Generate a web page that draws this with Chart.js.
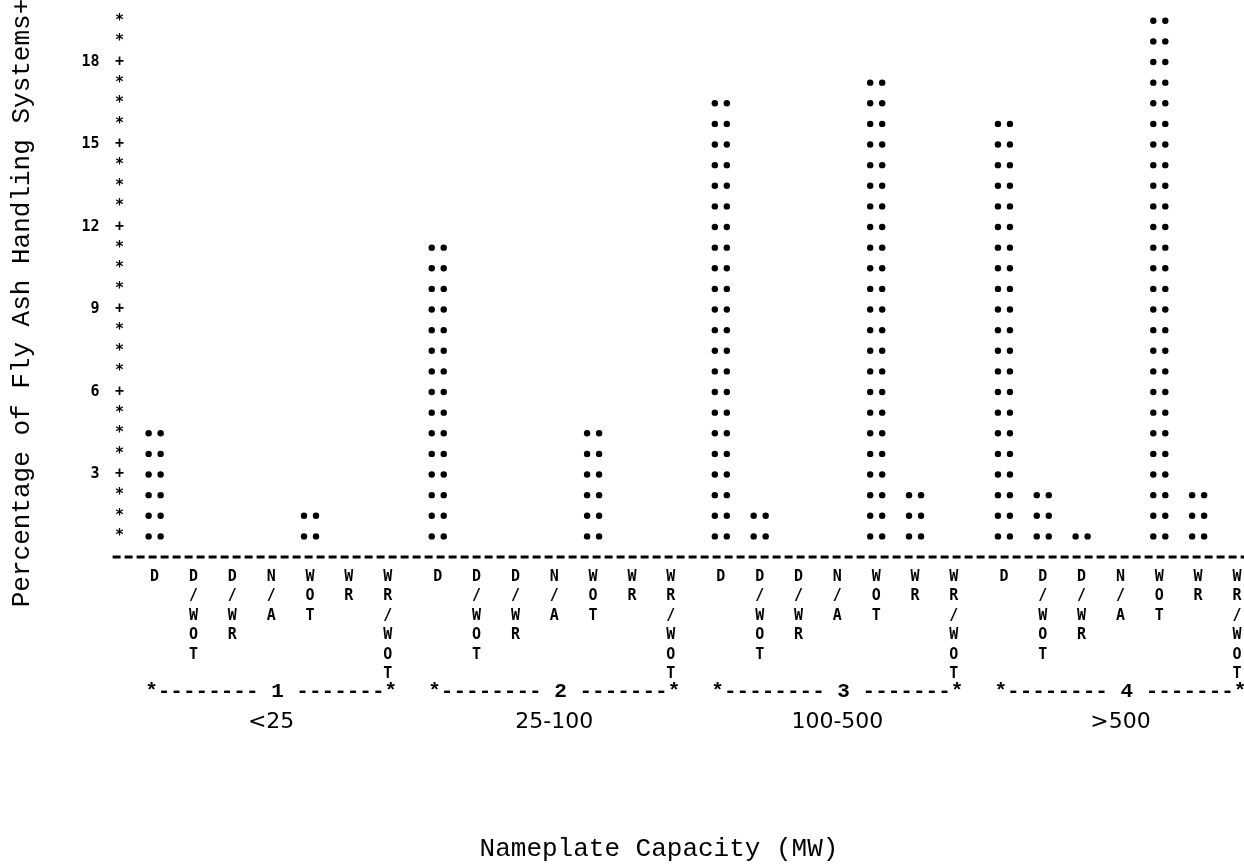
<!DOCTYPE html>
<html>
<head>
<meta charset="utf-8">
<title>Fly Ash Handling Systems by Nameplate Capacity</title>
<script src="https://cdn.jsdelivr.net/npm/chart.js@4.4.1/dist/chart.umd.min.js"></script>
<style>
  html, body { margin: 0; padding: 0; background: #fff; overflow: hidden; }
  #wrap { position: relative; width: 1262px; height: 868px; }
</style>
</head>
<body>
<div id="wrap"><canvas id="ashChart"></canvas></div>
<script>
// capacity groups (MW) and handling system types
const groups = ["<25", "25-100", "100-500", ">500"];
const types = ["D", "D/WOT", "D/WR", "N/A", "WOT", "WR", "WR/WOT"];

// percent of systems, one array per capacity group, same order as types
const under25 = [4.5, 0, 0, 0, 1.5, 0, 0];
const from25to100 = [11.25, 0, 0, 0, 4.5, 0, 0];
const from100to500 = [16.5, 1.5, 0, 0, 17.25, 2.25, 0];
const over500 = [15.75, 2.25, 0.75, 0, 19.5, 2.25, 0];

const yTicks = [3, 6, 9, 12, 15, 18];
const rowStep = 0.75; // one printed line of the line-printer plot

const groupValues = [under25, from25to100, from100to500, over500];

const monoBold = 'bold 15px "DejaVu Sans Mono"';
const typeFont = '"Liberation Mono", monospace';

// draws the chart the way the old line printer did: dots, stars and dashes
const printerLook = {
  id: 'printerLook',
  afterDatasetsDraw(chart) {
    const ctx = chart.ctx;
    const area = chart.chartArea;
    const x = chart.scales.x;
    const y = chart.scales.y;

    ctx.save();
    ctx.fillStyle = '#000';
    ctx.strokeStyle = '#000';

    // bars as two columns of dots, one row per 0.75 %
    chart.data.datasets.forEach((ds, i) => {
      const meta = chart.getDatasetMeta(i);
      meta.data.forEach((bar, j) => {
        const rows = Math.round(ds.data[j] / rowStep);
        for (let k = 1; k <= rows; k++) {
          const py = y.getPixelForValue(k * rowStep);
          [-6, 6].forEach(dx => {
            ctx.beginPath();
            ctx.arc(bar.x + dx, py, 3.2, 0, Math.PI * 2);
            ctx.fill();
          });
        }
        // type label, printed one character per line
        ctx.font = monoBold;
        ctx.textAlign = 'center';
        ctx.textBaseline = 'middle';
        types[i].split('').forEach((c, n) => {
          ctx.fillText(c, bar.x, area.bottom + 20 + n * 19.5);
        });
      });
    });

    // vertical axis made of stars with + at the ticks
    ctx.font = monoBold;
    for (let k = 1; k * rowStep <= y.max; k++) {
      const v = k * rowStep;
      const mark = yTicks.includes(v) ? '+' : '*';
      ctx.fillText(mark, area.left - 10, y.getPixelForValue(v));
    }

    // dashed base line
    ctx.lineWidth = 3;
    ctx.setLineDash([8, 4]);
    ctx.beginPath();
    ctx.moveTo(area.left - 17, area.bottom);
    ctx.lineTo(chart.width, area.bottom);
    ctx.stroke();
    ctx.setLineDash([]);

    // group brackets
    ctx.font = 'bold 21px ' + typeFont;
    groups.forEach((g, j) => {
      const cx = x.getPixelForValue(j);
      ctx.fillText('*-------- ' + (j + 1) + ' -------*', cx, area.bottom + 135);
    });

    // axis titles
    ctx.font = '26px ' + typeFont;
    ctx.fillText('Nameplate Capacity (MW)', 659, area.bottom + 292);
    ctx.translate(22, 303);
    ctx.rotate(-Math.PI / 2);
    ctx.fillText('Percentage of Fly Ash Handling Systems+', 0, 0);
    ctx.restore();
  }
};

// drop the extra room Chart.js keeps for tick labels, the layout is fixed here
function fixBox(size, prop) {
  return (s) => {
    s[prop] = size;
    s.paddingTop = 0;
    s.paddingBottom = 0;
    s.paddingLeft = 0;
    s.paddingRight = 0;
  };
}

const ctx = document.getElementById('ashChart').getContext('2d');
const ashChart = new Chart(ctx, {
  type: 'bar',
  data: {
    labels: groups,
    datasets: types.map((t, i) => ({
      label: t,
      data: groupValues.map(vals => vals[i]),
      backgroundColor: 'rgba(0, 0, 0, 0)',
      borderWidth: 0,
    })),
  },
  options: {
    responsive: true,
    maintainAspectRatio: false,
    animation: false,
    layout: { padding: { top: 12.5, left: 0, right: 0, bottom: 0 } },
    datasets: { bar: { categoryPercentage: 0.9604, barPercentage: 1 } },
    plugins: {
      legend: { display: false },
      tooltip: { enabled: false },
    },
    scales: {
      x: {
        offset: true,
        grid: { display: false, drawTicks: false },
        border: { display: false },
        ticks: {
          color: '#000',
          font: { family: '"DejaVu Sans"', size: 22 },
          padding: 152,
        },
        afterFit: fixBox(311, 'height'),
      },
      y: {
        min: 0,
        max: 19.8,
        grid: { display: false, drawTicks: false },
        border: { display: false },
        afterBuildTicks: (s) => { s.ticks = yTicks.map(v => ({ value: v })); },
        ticks: {
          color: '#000',
          font: { family: '"DejaVu Sans Mono"', size: 15, weight: 'bold' },
          padding: 30,
        },
        afterFit: fixBox(129.6, 'width'),
      },
    },
  },
  plugins: [printerLook],
});
</script>
</body>
</html>
